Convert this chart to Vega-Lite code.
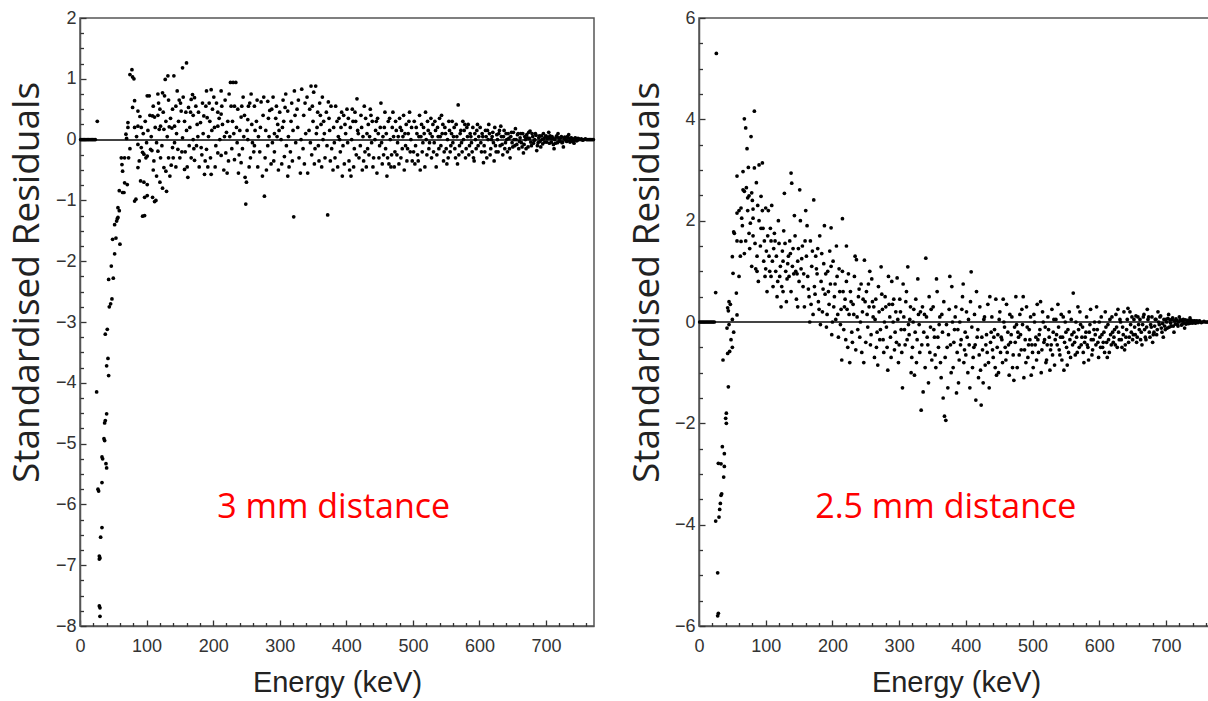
{
  "$schema": "https://vega.github.io/schema/vega-lite/v6.json",
  "autosize": {"type": "pad"},
  "padding": {"left": 7, "top": 8, "right": 0, "bottom": 0},
  "background": "white",
  "spacing": 105,
  "bounds": "flush",
  "config": {
    "view": {"stroke": "#555", "strokeWidth": 1.5},
    "axis": {
      "grid": false,
      "domainColor": "#555",
      "domainWidth": 1.5,
      "tickColor": "#333",
      "tickWidth": 1.3,
      "labelFont": "Liberation Sans",
      "labelFontSize": 18,
      "labelColor": "#333",
      "titleFont": "Liberation Sans",
      "titleFontWeight": "normal",
      "titleColor": "#222"
    }
  },
  "datasets": {
    "left": [
      {"e":1,"r":0},{"e":3,"r":0},{"e":5,"r":0},{"e":7,"r":0},{"e":9,"r":0},{"e":11,"r":0},{"e":13,"r":0},{"e":15,"r":0},{"e":17,"r":0},{"e":19,"r":0},{"e":21,"r":0},{"e":23,"r":0},
      {"e":26,"r":0.3},{"e":25,"r":-4.15},{"e":27,"r":-5.75},{"e":28,"r":-5.78},{"e":29,"r":-6.85},{"e":29,"r":-6.9},{"e":30,"r":-6.88},{"e":29,"r":-7.67},{"e":30,"r":-7.7},{"e":30,"r":-7.84},{"e":33,"r":-6.38},{"e":31,"r":-6.54},{"e":33,"r":-5.64},{"e":33,"r":-5.22},{"e":34,"r":-5.25},{"e":39,"r":-5.33},{"e":40,"r":-5.4},{"e":36,"r":-4.92},{"e":37,"r":-4.95},{"e":37,"r":-4.66},{"e":38,"r":-4.62},{"e":40,"r":-4.51},{"e":43,"r":-3.88},{"e":40,"r":-3.72},{"e":42,"r":-3.6},{"e":38,"r":-3.2},{"e":41,"r":-3.12},{"e":44,"r":-2.75},{"e":46,"r":-2.7},{"e":48,"r":-2.62},{"e":43,"r":-2.3},{"e":50,"r":-2.28},{"e":47,"r":-2.08},{"e":52,"r":-1.88},{"e":49,"r":-1.64},{"e":54,"r":-1.62},{"e":60,"r":-1.72},{"e":52,"r":-1.4},{"e":56,"r":-1.3},{"e":55,"r":-1.34},{"e":57,"r":-1.28},{"e":57,"r":-1.12},{"e":59,"r":-1.17},{"e":59,"r":-0.84},{"e":64,"r":-0.87},{"e":66,"r":-0.87},{"e":62,"r":-0.3},{"e":63,"r":-0.41},{"e":64,"r":-0.52},{"e":67,"r":-0.3},{"e":73,"r":-0.3},{"e":67,"r":-0.71},{"e":71,"r":-0.74},{"e":69,"r":0.09},{"e":70,"r":0.02},{"e":72,"r":0.2},{"e":72,"r":0.28},{"e":75,"r":-0.15},
      {"e":75,"r":1.07},{"e":78,"r":1.15},{"e":79,"r":1.03},{"e":81,"r":1.0},{"e":82,"r":0.64},{"e":79,"r":0.53},{"e":87,"r":0.47},{"e":82,"r":-1.01},{"e":84,"r":-0.98},{"e":87,"r":-0.46},{"e":89,"r":-0.35},{"e":91,"r":-0.68},{"e":96,"r":-0.7},{"e":101,"r":-0.74},{"e":97,"r":-0.95},{"e":101,"r":-0.92},{"e":94,"r":-1.26},{"e":97,"r":-1.25},{"e":82,"r":0.2},{"e":87,"r":0.22},{"e":92,"r":0.2},{"e":87,"r":-0.08},{"e":92,"r":-0.13},{"e":94,"r":-0.21},{"e":96,"r":-0.24},{"e":99,"r":-0.3},{"e":101,"r":-0.27},{"e":85,"r":0.05},{"e":90,"r":0.38},{"e":95,"r":0.1},{"e":98,"r":0.3},{"e":100,"r":-0.05},
      {"e":106,"r":-0.16},{"e":108,"r":-0.18},{"e":105,"r":0.4},{"e":109,"r":0.39},{"e":112,"r":0.37},{"e":117,"r":0.4},{"e":113,"r":0.2},{"e":101,"r":0.72},{"e":104,"r":0.72},{"e":117,"r":0.75},{"e":124,"r":0.77},{"e":127,"r":0.72},{"e":128,"r":0.99},{"e":132,"r":1.05},{"e":141,"r":1.05},{"e":139,"r":0.5},{"e":144,"r":0.55},{"e":151,"r":0.6},{"e":119,"r":0.17},{"e":121,"r":0.22},{"e":126,"r":0.17},{"e":134,"r":0.21},{"e":138,"r":0.19},{"e":142,"r":0.22},{"e":117,"r":-0.19},{"e":121,"r":-0.3},{"e":126,"r":-0.46},{"e":129,"r":-0.52},{"e":139,"r":-0.13},{"e":147,"r":-0.16},{"e":109,"r":-0.95},{"e":112,"r":-1.02},{"e":114,"r":-1.0},{"e":110,"r":-0.5},{"e":115,"r":-0.6},{"e":120,"r":-0.7},{"e":124,"r":-0.8},{"e":130,"r":-0.85},{"e":135,"r":-0.6},{"e":107,"r":0.05},{"e":115,"r":-0.05},{"e":123,"r":-0.1},{"e":131,"r":0.05},{"e":136,"r":0.35},{"e":110,"r":0.55},{"e":120,"r":0.5},{"e":129,"r":0.3},{"e":133,"r":-0.3},{"e":137,"r":-0.42},{"e":142,"r":-0.05},
      {"e":154,"r":0.03},{"e":152,"r":0.47},{"e":159,"r":0.45},{"e":163,"r":0.53},{"e":167,"r":0.66},{"e":172,"r":0.69},{"e":169,"r":0.74},{"e":154,"r":1.18},{"e":160,"r":1.26},{"e":146,"r":0.8},{"e":176,"r":0.25},{"e":181,"r":0.28},{"e":186,"r":0.39},{"e":191,"r":0.36},{"e":182,"r":-0.13},{"e":190,"r":-0.16},{"e":167,"r":-0.3},{"e":172,"r":-0.34},{"e":157,"r":-0.49},{"e":162,"r":-0.62},{"e":187,"r":-0.57},{"e":197,"r":-0.57},{"e":190,"r":0.8},{"e":197,"r":0.82},{"e":150,"r":-0.3},{"e":165,"r":0.2},{"e":170,"r":0.0},{"e":175,"r":-0.1},{"e":178,"r":0.45},{"e":185,"r":0.1},{"e":193,"r":0.05},{"e":196,"r":-0.3},{"e":148,"r":0.3},{"e":158,"r":-0.2},{"e":164,"r":-0.1},{"e":179,"r":-0.45},{"e":184,"r":0.6},{"e":199,"r":0.5},{"e":144,"r":-0.45},{"e":155,"r":0.7},{"e":188,"r":-0.35},{"e":160,"r":0.15},{"e":170,"r":0.4},{"e":194,"r":0.6},
      {"e":212,"r":0.8},{"e":207,"r":0.45},{"e":212,"r":0.42},{"e":202,"r":0.2},{"e":207,"r":0.22},{"e":214,"r":0.25},{"e":207,"r":-0.22},{"e":212,"r":-0.26},{"e":219,"r":-0.22},{"e":226,"r":0.94},{"e":230,"r":0.94},{"e":234,"r":0.94},{"e":227,"r":0.55},{"e":232,"r":0.55},{"e":237,"r":0.5},{"e":242,"r":0.37},{"e":247,"r":0.4},{"e":252,"r":0.33},{"e":252,"r":0.0},{"e":259,"r":-0.05},{"e":262,"r":-0.1},{"e":232,"r":-0.33},{"e":242,"r":-0.38},{"e":248,"r":-0.62},{"e":250,"r":-0.7},{"e":249,"r":-1.06},{"e":205,"r":0.6},{"e":218,"r":0.65},{"e":222,"r":0.3},{"e":225,"r":0.05},{"e":228,"r":-0.15},{"e":236,"r":-0.05},{"e":240,"r":0.15},{"e":245,"r":0.7},{"e":255,"r":0.6},{"e":258,"r":0.25},{"e":203,"r":-0.45},{"e":216,"r":-0.5},{"e":223,"r":-0.35},{"e":238,"r":-0.55},{"e":244,"r":-0.15},{"e":256,"r":-0.3},{"e":210,"r":0.0},{"e":220,"r":0.12},{"e":229,"r":0.3},{"e":253,"r":0.55},{"e":246,"r":0.05},{"e":235,"r":0.2},
      {"e":272,"r":0.62},{"e":282,"r":0.63},{"e":285,"r":0.48},{"e":277,"r":-0.93},{"e":292,"r":0.1},{"e":296,"r":0.05},{"e":302,"r":0.0},{"e":282,"r":-0.1},{"e":292,"r":-0.2},{"e":307,"r":-0.28},{"e":308,"r":0.53},{"e":312,"r":0.47},{"e":322,"r":0.8},{"e":317,"r":0.3},{"e":327,"r":0.2},{"e":321,"r":-1.27},{"e":265,"r":0.3},{"e":268,"r":0.05},{"e":270,"r":-0.2},{"e":275,"r":0.4},{"e":279,"r":0.15},{"e":287,"r":-0.4},{"e":290,"r":0.7},{"e":294,"r":0.35},{"e":298,"r":-0.5},{"e":300,"r":0.45},{"e":304,"r":0.2},{"e":310,"r":-0.1},{"e":314,"r":-0.45},{"e":318,"r":0.6},{"e":324,"r":-0.05},{"e":329,"r":-0.3},{"e":333,"r":0.83},{"e":336,"r":0.4},{"e":339,"r":0.1},{"e":262,"r":0.55},{"e":267,"r":-0.45},{"e":274,"r":-0.6},{"e":283,"r":0.35},{"e":289,"r":-0.05},{"e":305,"r":0.65},{"e":312,"r":-0.6},{"e":320,"r":0.15},{"e":326,"r":0.5},{"e":331,"r":-0.55},{"e":335,"r":-0.15},{"e":338,"r":0.6},{"e":263,"r":0.15},{"e":278,"r":-0.3},{"e":297,"r":0.25},{"e":316,"r":-0.2},
      {"e":347,"r":0.88},{"e":354,"r":0.88},{"e":351,"r":0.78},{"e":345,"r":0.5},{"e":350,"r":0.3},{"e":355,"r":0.1},{"e":358,"r":-0.1},{"e":348,"r":-0.25},{"e":352,"r":-0.4},{"e":360,"r":0.6},{"e":362,"r":0.25},{"e":365,"r":0.0},{"e":368,"r":-0.3},{"e":372,"r":-1.24},{"e":370,"r":0.45},{"e":375,"r":0.15},{"e":378,"r":-0.15},{"e":380,"r":-0.5},{"e":384,"r":0.55},{"e":386,"r":0.3},{"e":388,"r":0.05},{"e":391,"r":-0.2},{"e":394,"r":-0.6},{"e":396,"r":0.4},{"e":399,"r":0.1},{"e":402,"r":-0.05},{"e":404,"r":-0.35},{"e":406,"r":0.2},{"e":409,"r":0.5},{"e":412,"r":-0.15},{"e":416,"r":0.67},{"e":418,"r":0.1},{"e":342,"r":-0.55},{"e":357,"r":0.45},{"e":363,"r":-0.45},{"e":373,"r":0.62},{"e":382,"r":-0.05},{"e":389,"r":0.35},{"e":397,"r":-0.4},{"e":407,"r":-0.6},{"e":414,"r":0.3},{"e":419,"r":-0.3},{"e":344,"r":0.15},{"e":366,"r":0.3},{"e":376,"r":-0.35},{"e":392,"r":0.2},{"e":401,"r":0.5},{"e":411,"r":-0.45},
      {"e":422,"r":0.4},{"e":425,"r":0.05},{"e":428,"r":-0.2},{"e":430,"r":-0.45},{"e":433,"r":0.25},{"e":436,"r":0.5},{"e":438,"r":-0.05},{"e":441,"r":-0.3},{"e":444,"r":0.15},{"e":447,"r":0.35},{"e":450,"r":-0.1},{"e":452,"r":0.6},{"e":454,"r":-0.4},{"e":457,"r":0.2},{"e":459,"r":-0.15},{"e":461,"r":-0.6},{"e":463,"r":0.3},{"e":466,"r":0.0},{"e":468,"r":-0.25},{"e":470,"r":0.45},{"e":472,"r":-0.45},{"e":475,"r":0.15},{"e":477,"r":-0.05},{"e":480,"r":0.35},{"e":482,"r":-0.3},{"e":485,"r":0.05},{"e":487,"r":-0.5},{"e":490,"r":0.25},{"e":492,"r":-0.15},{"e":495,"r":0.45},{"e":497,"r":0.0},{"e":499,"r":-0.35},{"e":424,"r":-0.5},{"e":431,"r":0.1},{"e":439,"r":0.3},{"e":446,"r":-0.55},{"e":455,"r":0.05},{"e":462,"r":-0.3},{"e":469,"r":0.2},{"e":476,"r":-0.25},{"e":483,"r":0.15},{"e":489,"r":-0.1},{"e":496,"r":-0.2},{"e":427,"r":0.55},{"e":448,"r":0.1},{"e":467,"r":-0.45},{"e":486,"r":0.4},{"e":434,"r":-0.25},{"e":458,"r":0.45},{"e":478,"r":0.05},{"e":493,"r":0.1},
      {"e":502,"r":0.3},{"e":504,"r":-0.1},{"e":506,"r":0.1},{"e":508,"r":-0.35},{"e":510,"r":0.4},{"e":512,"r":0.05},{"e":514,"r":-0.2},{"e":516,"r":0.2},{"e":518,"r":-0.45},{"e":520,"r":0.0},{"e":522,"r":0.3},{"e":524,"r":-0.15},{"e":526,"r":0.1},{"e":528,"r":-0.3},{"e":530,"r":0.25},{"e":532,"r":-0.05},{"e":534,"r":0.15},{"e":536,"r":-0.25},{"e":538,"r":0.05},{"e":540,"r":0.35},{"e":542,"r":-0.1},{"e":544,"r":0.1},{"e":546,"r":-0.35},{"e":548,"r":0.2},{"e":550,"r":-0.15},{"e":552,"r":0.0},{"e":554,"r":0.3},{"e":556,"r":-0.2},{"e":558,"r":0.1},{"e":560,"r":-0.05},{"e":562,"r":0.2},{"e":564,"r":-0.3},{"e":566,"r":0.05},{"e":568,"r":0.57},{"e":570,"r":-0.1},{"e":572,"r":0.15},{"e":574,"r":-0.2},{"e":576,"r":0.0},{"e":578,"r":0.25},{"e":580,"r":-0.15},{"e":582,"r":0.05},{"e":584,"r":-0.25},{"e":586,"r":0.1},{"e":588,"r":-0.05},{"e":590,"r":0.2},{"e":592,"r":-0.35},{"e":594,"r":0.0},{"e":596,"r":0.15},{"e":598,"r":-0.1},{"e":503,"r":-0.4},{"e":511,"r":-0.5},{"e":519,"r":0.45},{"e":527,"r":0.35},{"e":535,"r":-0.45},{"e":543,"r":0.4},{"e":551,"r":-0.4},{"e":559,"r":0.3},{"e":567,"r":-0.4},{"e":575,"r":0.3},{"e":583,"r":0.25},{"e":591,"r":-0.3},{"e":599,"r":0.05},
      {"e":601,"r":0.2},{"e":603,"r":-0.2},{"e":605,"r":0.05},{"e":607,"r":-0.1},{"e":609,"r":0.15},{"e":611,"r":-0.3},{"e":613,"r":0.0},{"e":615,"r":0.1},{"e":617,"r":-0.15},{"e":619,"r":0.05},{"e":621,"r":-0.05},{"e":623,"r":0.2},{"e":625,"r":-0.2},{"e":627,"r":0.0},{"e":629,"r":0.1},{"e":631,"r":-0.1},{"e":633,"r":0.05},{"e":635,"r":-0.25},{"e":637,"r":0.15},{"e":639,"r":-0.05},{"e":641,"r":0.0},{"e":643,"r":0.1},{"e":645,"r":-0.15},{"e":647,"r":0.05},{"e":649,"r":-0.05},{"e":651,"r":0.12},{"e":653,"r":-0.1},{"e":655,"r":0.0},{"e":657,"r":0.08},{"e":659,"r":-0.15},{"e":661,"r":0.03},{"e":663,"r":-0.05},{"e":665,"r":0.1},{"e":667,"r":-0.08},{"e":669,"r":0.0},{"e":671,"r":0.08},{"e":673,"r":-0.12},{"e":675,"r":0.02},{"e":677,"r":-0.04},{"e":679,"r":0.1},{"e":681,"r":-0.06},{"e":683,"r":0.0},{"e":685,"r":0.07},{"e":687,"r":-0.1},{"e":689,"r":0.03},{"e":691,"r":-0.03},{"e":693,"r":0.06},{"e":695,"r":-0.07},{"e":697,"r":0.02},{"e":699,"r":0.05},{"e":606,"r":-0.38},{"e":614,"r":0.25},{"e":622,"r":-0.35},{"e":632,"r":0.22},{"e":646,"r":-0.3},{"e":654,"r":0.18},{"e":666,"r":-0.22},{"e":676,"r":0.14},{"e":686,"r":-0.18},{"e":696,"r":0.1},
      {"e":701,"r":-0.04},{"e":703,"r":0.04},{"e":705,"r":-0.06},{"e":707,"r":0.02},{"e":709,"r":0.05},{"e":711,"r":-0.08},{"e":713,"r":0.0},{"e":715,"r":0.04},{"e":717,"r":-0.05},{"e":719,"r":0.03},{"e":721,"r":-0.03},{"e":723,"r":0.05},{"e":725,"r":-0.04},{"e":727,"r":0.02},{"e":729,"r":0.0},{"e":731,"r":-0.03},{"e":733,"r":0.03},{"e":735,"r":-0.02},{"e":737,"r":0.02},{"e":739,"r":0.0},{"e":741,"r":-0.02},{"e":743,"r":0.02},{"e":745,"r":0.0},{"e":747,"r":-0.01},{"e":749,"r":0.01},{"e":751,"r":0.0},{"e":753,"r":0.01},{"e":755,"r":-0.01},{"e":757,"r":0.0},{"e":759,"r":0.01},{"e":761,"r":0.0},{"e":763,"r":0.0},{"e":765,"r":0.0},{"e":767,"r":0.0},{"e":769,"r":0.0},{"e":771,"r":0.0},{"e":704,"r":0.12},{"e":712,"r":-0.15},{"e":718,"r":0.1},{"e":726,"r":-0.12},{"e":734,"r":0.08},{"e":742,"r":-0.06},
      {"e":102,"r":0.15},{"e":111,"r":-0.35},{"e":118,"r":0.6},{"e":125,"r":0.45},{"e":133,"r":0.65},{"e":140,"r":-0.3},{"e":145,"r":0.1},{"e":149,"r":0.65},{"e":153,"r":-0.2},{"e":157,"r":0.3},{"e":161,"r":-0.45},{"e":166,"r":0.45},{"e":171,"r":-0.15},{"e":174,"r":0.55},{"e":177,"r":0.05},{"e":183,"r":-0.25},{"e":189,"r":0.55},{"e":192,"r":-0.45},{"e":195,"r":0.3},{"e":198,"r":0.15},{"e":201,"r":0.7},{"e":204,"r":-0.1},{"e":209,"r":0.35},{"e":213,"r":0.55},{"e":217,"r":0.05},{"e":221,"r":-0.55},{"e":224,"r":0.75},{"e":231,"r":0.1},{"e":239,"r":-0.25},{"e":243,"r":0.55},{"e":251,"r":0.15},{"e":254,"r":-0.45},{"e":257,"r":0.75},{"e":261,"r":-0.2},{"e":266,"r":0.65},{"e":271,"r":0.2},{"e":276,"r":0.7},{"e":280,"r":-0.5},{"e":284,"r":0.05},{"e":288,"r":0.5},{"e":291,"r":-0.35},{"e":295,"r":0.55},{"e":299,"r":0.15},{"e":303,"r":-0.4},{"e":306,"r":0.3},{"e":309,"r":0.75},{"e":313,"r":0.05},{"e":319,"r":-0.35},{"e":323,"r":0.4},{"e":328,"r":0.65},{"e":332,"r":0.0},{"e":337,"r":-0.4},{"e":341,"r":0.7},{"e":346,"r":-0.05},{"e":349,"r":0.55},{"e":353,"r":-0.15},{"e":356,"r":0.2},{"e":359,"r":-0.35},{"e":361,"r":0.4},{"e":364,"r":0.7},{"e":367,"r":0.1},{"e":371,"r":-0.1},{"e":374,"r":0.35},{"e":377,"r":0.55},{"e":381,"r":0.2},{"e":383,"r":-0.3},{"e":387,"r":-0.45},{"e":390,"r":0.0},{"e":393,"r":0.45},{"e":395,"r":-0.1},{"e":398,"r":0.25},{"e":403,"r":0.35},{"e":405,"r":-0.5},{"e":408,"r":0.0},{"e":410,"r":0.3},{"e":413,"r":0.45},{"e":415,"r":-0.25},{"e":417,"r":0.15},{"e":421,"r":-0.1},{"e":423,"r":0.2},{"e":426,"r":-0.35},{"e":429,"r":0.35},{"e":432,"r":-0.15},{"e":435,"r":0.05},{"e":437,"r":0.4},{"e":440,"r":-0.45},{"e":443,"r":0.0},{"e":445,"r":0.3},{"e":449,"r":-0.3},{"e":451,"r":0.2},{"e":453,"r":-0.05},{"e":456,"r":-0.25},{"e":460,"r":0.1},{"e":464,"r":-0.4},{"e":465,"r":0.35},{"e":471,"r":0.05},{"e":473,"r":-0.2},{"e":474,"r":0.3},{"e":479,"r":-0.4},{"e":481,"r":0.2},{"e":484,"r":-0.15},{"e":488,"r":0.1},{"e":491,"r":-0.35},{"e":494,"r":0.3},{"e":498,"r":0.2},{"e":501,"r":-0.2},{"e":505,"r":0.2},{"e":507,"r":-0.25},{"e":509,"r":0.05},{"e":513,"r":0.25},{"e":515,"r":-0.05},{"e":517,"r":0.1},{"e":521,"r":-0.25},{"e":523,"r":0.15},{"e":525,"r":-0.05},{"e":529,"r":0.05},{"e":531,"r":-0.2},{"e":533,"r":0.3},{"e":537,"r":0.2},{"e":539,"r":-0.15},{"e":541,"r":0.05},{"e":545,"r":0.25},{"e":547,"r":-0.2},{"e":549,"r":0.1},{"e":553,"r":-0.3},{"e":555,"r":0.15},{"e":557,"r":-0.1},{"e":561,"r":0.05},{"e":563,"r":-0.15},{"e":565,"r":0.25},{"e":569,"r":-0.25},{"e":571,"r":0.1},{"e":573,"r":-0.05},{"e":577,"r":0.15},{"e":579,"r":-0.3},{"e":581,"r":0.2},{"e":585,"r":-0.1},{"e":587,"r":0.05},{"e":589,"r":-0.2},{"e":593,"r":0.1},{"e":595,"r":-0.15},{"e":597,"r":0.25},{"e":602,"r":-0.05},{"e":604,"r":0.1},{"e":608,"r":-0.2},{"e":610,"r":0.05},{"e":612,"r":0.15},{"e":616,"r":-0.25},{"e":618,"r":0.0},{"e":620,"r":0.12},{"e":624,"r":-0.1},{"e":626,"r":0.08},{"e":628,"r":-0.2},{"e":630,"r":0.15},{"e":634,"r":-0.08},{"e":636,"r":0.05},{"e":638,"r":-0.15},{"e":640,"r":0.1},{"e":642,"r":-0.2},{"e":644,"r":0.02},{"e":648,"r":0.12},{"e":650,"r":-0.12},{"e":652,"r":0.0},{"e":656,"r":-0.08},{"e":658,"r":0.1},{"e":660,"r":-0.03},{"e":662,"r":0.1},{"e":664,"r":-0.12},{"e":668,"r":0.05},{"e":670,"r":-0.15},{"e":672,"r":0.03},{"e":674,"r":0.12},{"e":678,"r":-0.1},{"e":680,"r":0.05},{"e":682,"r":-0.02},{"e":684,"r":0.1},{"e":688,"r":-0.05},{"e":690,"r":0.06},{"e":692,"r":-0.12},{"e":694,"r":0.0},{"e":698,"r":-0.04},{"e":700,"r":0.06},{"e":702,"r":0.02},{"e":706,"r":0.06},{"e":708,"r":-0.04},{"e":710,"r":0.02},{"e":714,"r":-0.06},{"e":716,"r":0.06},{"e":720,"r":-0.02},{"e":722,"r":0.03},{"e":724,"r":-0.05},{"e":728,"r":0.04},{"e":730,"r":-0.01},{"e":732,"r":0.05},{"e":736,"r":-0.04},{"e":738,"r":0.03},{"e":740,"r":-0.03},{"e":744,"r":0.03},{"e":746,"r":-0.02},{"e":748,"r":0.02}
    ],
    "right": [
      {"e":1,"r":0},{"e":3,"r":0},{"e":5,"r":0},{"e":7,"r":0},{"e":9,"r":0},{"e":11,"r":0},{"e":13,"r":0},{"e":15,"r":0},{"e":17,"r":0},{"e":19,"r":0},{"e":21,"r":0},{"e":23,"r":0},
      {"e":26,"r":5.3},{"e":25,"r":0.58},{"e":28,"r":-4.95},{"e":28,"r":-5.8},{"e":29,"r":-5.75},{"e":25,"r":-3.93},{"e":30,"r":-3.85},{"e":31,"r":-3.7},{"e":32,"r":-3.58},{"e":34,"r":-3.39},{"e":33,"r":-3.42},{"e":29,"r":-2.79},{"e":33,"r":-2.8},{"e":35,"r":-2.46},{"e":37,"r":-3.06},{"e":38,"r":-2.85},{"e":38,"r":-2.6},{"e":40,"r":-1.9},{"e":41,"r":-1.8},{"e":41,"r":-2.0},{"e":44,"r":-1.28},{"e":36,"r":-0.75},{"e":43,"r":-0.62},{"e":46,"r":-0.58},{"e":50,"r":-0.5},{"e":48,"r":-0.35},{"e":52,"r":-0.2},{"e":42,"r":-0.12},{"e":45,"r":-0.05},{"e":43,"r":0.28},{"e":45,"r":0.4},{"e":44,"r":0.22},{"e":47,"r":0.35},{"e":50,"r":0.05},
      {"e":57,"r":2.88},{"e":66,"r":2.97},{"e":68,"r":4.01},{"e":70,"r":3.83},{"e":72,"r":3.42},{"e":78,"r":3.66},{"e":83,"r":4.16},{"e":83,"r":3.04},{"e":95,"r":3.14},{"e":90,"r":3.1},{"e":66,"r":2.61},{"e":68,"r":2.58},{"e":71,"r":2.65},{"e":75,"r":2.49},{"e":73,"r":2.45},{"e":57,"r":2.15},{"e":60,"r":2.2},{"e":63,"r":2.25},{"e":52,"r":1.78},{"e":53,"r":1.75},{"e":57,"r":1.6},{"e":50,"r":1.29},{"e":51,"r":0.96},{"e":56,"r":0.57},{"e":57,"r":0.14},{"e":63,"r":1.59},{"e":70,"r":1.6},{"e":81,"r":2.05},{"e":81,"r":2.23},{"e":80,"r":2.4},{"e":93,"r":2.48},{"e":100,"r":2.25},{"e":81,"r":1.7},{"e":87,"r":1.3},{"e":85,"r":1.05},{"e":87,"r":1.0},{"e":89,"r":0.8},{"e":93,"r":1.85},{"e":96,"r":1.85},{"e":65,"r":1.9},{"e":68,"r":1.35},{"e":75,"r":1.75},{"e":77,"r":1.95},{"e":73,"r":2.2},{"e":60,"r":0.9},{"e":62,"r":1.3},{"e":64,"r":2.05},{"e":79,"r":1.1},{"e":76,"r":1.45},{"e":84,"r":1.55},{"e":90,"r":2.0},{"e":92,"r":1.5},{"e":97,"r":1.2},{"e":99,"r":0.9},{"e":95,"r":2.2},{"e":88,"r":2.3},{"e":98,"r":1.6},{"e":74,"r":3.05},{"e":79,"r":2.55},{"e":86,"r":2.75},
      {"e":103,"r":1.7},{"e":108,"r":1.6},{"e":113,"r":1.75},{"e":100,"r":1.05},{"e":108,"r":0.9},{"e":117,"r":0.5},{"e":126,"r":1.2},{"e":128,"r":2.54},{"e":138,"r":2.94},{"e":139,"r":2.74},{"e":151,"r":2.61},{"e":105,"r":1.3},{"e":110,"r":1.2},{"e":112,"r":1.45},{"e":115,"r":1.0},{"e":118,"r":0.8},{"e":120,"r":1.55},{"e":122,"r":1.1},{"e":124,"r":0.7},{"e":125,"r":1.4},{"e":130,"r":1.0},{"e":132,"r":0.85},{"e":134,"r":1.3},{"e":136,"r":1.6},{"e":138,"r":0.6},{"e":140,"r":1.1},{"e":142,"r":0.95},{"e":144,"r":1.7},{"e":146,"r":0.45},{"e":148,"r":1.2},{"e":150,"r":0.8},{"e":102,"r":0.6},{"e":107,"r":1.85},{"e":119,"r":2.0},{"e":127,"r":1.8},{"e":131,"r":0.4},{"e":143,"r":2.1},{"e":149,"r":1.45},{"e":104,"r":2.2},{"e":116,"r":1.3},{"e":123,"r":0.3},{"e":135,"r":0.9},{"e":141,"r":1.45},{"e":111,"r":0.7},{"e":129,"r":1.55},{"e":147,"r":0.95},
      {"e":172,"r":2.41},{"e":160,"r":2.2},{"e":152,"r":2.0},{"e":155,"r":1.5},{"e":215,"r":2.04},{"e":221,"r":1.5},{"e":198,"r":1.86},{"e":236,"r":1.23},{"e":248,"r":1.22},{"e":153,"r":1.05},{"e":156,"r":0.7},{"e":158,"r":0.3},{"e":161,"r":1.3},{"e":163,"r":0.9},{"e":165,"r":0.5},{"e":167,"r":1.6},{"e":169,"r":1.1},{"e":171,"r":0.15},{"e":173,"r":0.7},{"e":175,"r":1.3},{"e":177,"r":0.95},{"e":179,"r":0.4},{"e":181,"r":1.7},{"e":183,"r":0.8},{"e":185,"r":0.2},{"e":187,"r":1.15},{"e":189,"r":0.55},{"e":191,"r":-0.1},{"e":193,"r":1.0},{"e":195,"r":0.35},{"e":197,"r":0.75},{"e":199,"r":-0.25},{"e":201,"r":1.2},{"e":203,"r":0.5},{"e":205,"r":0.05},{"e":207,"r":0.9},{"e":209,"r":-0.3},{"e":211,"r":0.6},{"e":213,"r":0.25},{"e":215,"r":1.0},{"e":217,"r":-0.15},{"e":219,"r":0.45},{"e":221,"r":0.8},{"e":223,"r":-0.5},{"e":225,"r":0.15},{"e":227,"r":0.6},{"e":229,"r":-0.2},{"e":231,"r":0.35},{"e":233,"r":0.9},{"e":235,"r":-0.55},{"e":237,"r":0.1},{"e":239,"r":0.5},{"e":241,"r":-0.3},{"e":243,"r":0.75},{"e":245,"r":0.2},{"e":247,"r":-0.8},{"e":249,"r":0.4},{"e":162,"r":1.9},{"e":178,"r":1.45},{"e":188,"r":1.9},{"e":196,"r":1.4},{"e":206,"r":1.5},{"e":214,"r":-0.75},{"e":226,"r":-0.8},{"e":234,"r":1.3},{"e":244,"r":-0.6},{"e":166,"r":0.0},{"e":182,"r":-0.05},{"e":200,"r":0.0},{"e":218,"r":0.3},
      {"e":273,"r":1.09},{"e":313,"r":1.09},{"e":297,"r":0.87},{"e":340,"r":1.26},{"e":333,"r":-1.74},{"e":336,"r":-1.38},{"e":251,"r":0.6},{"e":253,"r":-0.1},{"e":255,"r":0.3},{"e":257,"r":-0.45},{"e":259,"r":0.85},{"e":261,"r":0.1},{"e":263,"r":-0.7},{"e":265,"r":0.45},{"e":267,"r":-0.2},{"e":269,"r":0.7},{"e":271,"r":-0.35},{"e":275,"r":0.25},{"e":277,"r":-0.6},{"e":279,"r":0.5},{"e":281,"r":-0.1},{"e":283,"r":-0.95},{"e":285,"r":0.35},{"e":287,"r":-0.3},{"e":289,"r":0.8},{"e":291,"r":0.0},{"e":293,"r":-0.55},{"e":295,"r":0.2},{"e":299,"r":-0.8},{"e":301,"r":0.45},{"e":303,"r":-0.15},{"e":305,"r":-1.3},{"e":307,"r":0.1},{"e":309,"r":-0.45},{"e":311,"r":0.6},{"e":315,"r":-0.25},{"e":317,"r":0.3},{"e":319,"r":-0.7},{"e":321,"r":0.0},{"e":323,"r":-1.05},{"e":325,"r":0.45},{"e":327,"r":-0.35},{"e":329,"r":0.15},{"e":331,"r":-0.6},{"e":335,"r":0.3},{"e":337,"r":-0.2},{"e":339,"r":-0.9},{"e":341,"r":0.1},{"e":343,"r":-0.45},{"e":345,"r":0.5},{"e":347,"r":-0.1},{"e":349,"r":-0.75},{"e":256,"r":1.0},{"e":268,"r":-0.85},{"e":284,"r":0.9},{"e":296,"r":-0.4},{"e":306,"r":0.75},{"e":318,"r":-1.0},{"e":328,"r":0.85},{"e":344,"r":-1.2},{"e":262,"r":0.3},{"e":278,"r":0.0},{"e":292,"r":0.45},{"e":314,"r":-0.05},{"e":332,"r":0.2},
      {"e":370,"r":-1.94},{"e":368,"r":-1.86},{"e":415,"r":-1.54},{"e":423,"r":-1.64},{"e":408,"r":0.99},{"e":351,"r":0.3},{"e":353,"r":-0.3},{"e":355,"r":-0.9},{"e":357,"r":0.6},{"e":359,"r":-0.5},{"e":361,"r":0.1},{"e":363,"r":-1.1},{"e":365,"r":-0.2},{"e":367,"r":0.4},{"e":369,"r":-0.7},{"e":371,"r":-0.05},{"e":373,"r":-1.3},{"e":375,"r":0.25},{"e":377,"r":-0.45},{"e":379,"r":0.7},{"e":381,"r":-0.9},{"e":383,"r":-0.15},{"e":385,"r":0.3},{"e":387,"r":-0.6},{"e":389,"r":-1.2},{"e":391,"r":0.0},{"e":393,"r":-0.35},{"e":395,"r":0.5},{"e":397,"r":-0.8},{"e":399,"r":-0.2},{"e":401,"r":0.2},{"e":403,"r":-1.0},{"e":405,"r":-0.45},{"e":407,"r":0.4},{"e":409,"r":-0.1},{"e":411,"r":-0.7},{"e":413,"r":0.15},{"e":417,"r":-0.3},{"e":419,"r":-1.1},{"e":421,"r":0.3},{"e":425,"r":-0.55},{"e":427,"r":0.05},{"e":429,"r":-0.85},{"e":431,"r":-0.25},{"e":433,"r":0.35},{"e":435,"r":-1.3},{"e":437,"r":-0.4},{"e":439,"r":0.1},{"e":441,"r":-0.7},{"e":443,"r":-0.15},{"e":445,"r":0.45},{"e":447,"r":-0.5},{"e":449,"r":-1.0},{"e":356,"r":0.85},{"e":366,"r":-1.5},{"e":376,"r":0.9},{"e":386,"r":-1.4},{"e":396,"r":0.75},{"e":406,"r":-1.3},{"e":416,"r":0.6},{"e":426,"r":-1.2},{"e":436,"r":0.5},{"e":446,"r":-1.05},{"e":360,"r":-0.05},{"e":380,"r":0.0},{"e":398,"r":-0.55},{"e":412,"r":-0.5},{"e":432,"r":-0.6},{"e":442,"r":-0.3},
      {"e":561,"r":0.57},{"e":451,"r":0.2},{"e":453,"r":-0.3},{"e":455,"r":-0.8},{"e":457,"r":0.0},{"e":459,"r":-0.5},{"e":461,"r":0.35},{"e":463,"r":-0.2},{"e":465,"r":-1.05},{"e":467,"r":-0.4},{"e":469,"r":0.1},{"e":471,"r":-0.65},{"e":473,"r":-0.1},{"e":475,"r":0.5},{"e":477,"r":-0.9},{"e":479,"r":-0.3},{"e":481,"r":0.15},{"e":483,"r":-0.55},{"e":485,"r":-0.05},{"e":487,"r":-1.1},{"e":489,"r":-0.35},{"e":491,"r":0.3},{"e":493,"r":-0.7},{"e":495,"r":-0.15},{"e":497,"r":0.1},{"e":499,"r":-0.45},{"e":501,"r":-0.9},{"e":503,"r":0.0},{"e":505,"r":-0.3},{"e":507,"r":0.35},{"e":509,"r":-0.6},{"e":511,"r":-0.15},{"e":513,"r":-1.0},{"e":515,"r":0.2},{"e":517,"r":-0.4},{"e":519,"r":-0.1},{"e":521,"r":-0.75},{"e":523,"r":0.1},{"e":525,"r":-0.3},{"e":527,"r":-0.55},{"e":529,"r":0.25},{"e":531,"r":-0.2},{"e":533,"r":-0.85},{"e":535,"r":0.05},{"e":537,"r":-0.45},{"e":539,"r":-0.1},{"e":541,"r":-0.65},{"e":543,"r":0.15},{"e":545,"r":-0.3},{"e":547,"r":-0.95},{"e":549,"r":0.0},{"e":551,"r":-0.5},{"e":553,"r":-0.15},{"e":555,"r":0.2},{"e":557,"r":-0.7},{"e":559,"r":-0.25},{"e":456,"r":0.45},{"e":472,"r":-1.15},{"e":486,"r":0.5},{"e":498,"r":-1.05},{"e":512,"r":0.4},{"e":526,"r":-0.95},{"e":538,"r":0.35},{"e":552,"r":-0.85},{"e":462,"r":-0.6},{"e":478,"r":-0.2},{"e":494,"r":-0.45},{"e":508,"r":-0.35},{"e":522,"r":-0.45},{"e":534,"r":-0.35},{"e":548,"r":-0.4},
      {"e":563,"r":-0.4},{"e":565,"r":0.0},{"e":567,"r":-0.6},{"e":569,"r":-0.15},{"e":571,"r":0.2},{"e":573,"r":-0.45},{"e":575,"r":-0.1},{"e":577,"r":-0.8},{"e":579,"r":-0.3},{"e":581,"r":0.1},{"e":583,"r":-0.5},{"e":585,"r":-0.2},{"e":587,"r":0.25},{"e":589,"r":-0.65},{"e":591,"r":-0.35},{"e":593,"r":0.0},{"e":595,"r":-0.45},{"e":597,"r":-0.15},{"e":599,"r":-0.7},{"e":601,"r":-0.3},{"e":603,"r":0.1},{"e":605,"r":-0.5},{"e":607,"r":-0.2},{"e":609,"r":0.2},{"e":611,"r":-0.4},{"e":613,"r":-0.05},{"e":615,"r":-0.6},{"e":617,"r":-0.25},{"e":619,"r":0.1},{"e":621,"r":-0.4},{"e":623,"r":-0.15},{"e":625,"r":0.15},{"e":627,"r":-0.5},{"e":629,"r":-0.2},{"e":631,"r":0.05},{"e":633,"r":-0.35},{"e":635,"r":-0.1},{"e":637,"r":0.2},{"e":639,"r":-0.45},{"e":641,"r":-0.15},{"e":643,"r":0.27},{"e":645,"r":-0.3},{"e":647,"r":-0.05},{"e":649,"r":0.1},{"e":651,"r":-0.25},{"e":653,"r":-0.1},{"e":655,"r":0.12},{"e":657,"r":-0.3},{"e":659,"r":-0.05},{"e":568,"r":0.3},{"e":584,"r":-0.75},{"e":596,"r":0.3},{"e":612,"r":-0.7},{"e":628,"r":0.25},{"e":638,"r":-0.55},{"e":646,"r":0.2},{"e":578,"r":-0.4},{"e":594,"r":-0.25},{"e":606,"r":-0.4},{"e":622,"r":-0.3},{"e":636,"r":-0.25},
      {"e":661,"r":0.05},{"e":663,"r":-0.2},{"e":665,"r":-0.05},{"e":667,"r":0.15},{"e":669,"r":-0.3},{"e":671,"r":-0.1},{"e":673,"r":0.05},{"e":675,"r":-0.2},{"e":677,"r":-0.05},{"e":679,"r":0.1},{"e":681,"r":-0.25},{"e":683,"r":-0.08},{"e":685,"r":0.05},{"e":687,"r":-0.15},{"e":689,"r":0.0},{"e":691,"r":0.1},{"e":693,"r":-0.12},{"e":695,"r":-0.03},{"e":697,"r":0.05},{"e":699,"r":-0.15},{"e":701,"r":0.0},{"e":703,"r":0.07},{"e":705,"r":-0.1},{"e":707,"r":-0.02},{"e":709,"r":0.05},{"e":711,"r":-0.08},{"e":713,"r":0.02},{"e":715,"r":0.06},{"e":717,"r":-0.05},{"e":719,"r":0.0},{"e":721,"r":0.04},{"e":723,"r":-0.06},{"e":725,"r":0.02},{"e":727,"r":-0.02},{"e":729,"r":0.04},{"e":731,"r":-0.03},{"e":733,"r":0.01},{"e":735,"r":0.03},{"e":737,"r":-0.02},{"e":739,"r":0.01},{"e":741,"r":0.0},{"e":743,"r":0.02},{"e":745,"r":-0.01},{"e":747,"r":0.01},{"e":749,"r":0.0},{"e":751,"r":0.01},{"e":753,"r":-0.01},{"e":755,"r":0.0},{"e":757,"r":0.01},{"e":759,"r":0.0},{"e":761,"r":0.0},{"e":763,"r":0.0},{"e":765,"r":0.0},{"e":664,"r":-0.45},{"e":672,"r":0.25},{"e":680,"r":-0.4},{"e":688,"r":0.2},{"e":696,"r":-0.3},{"e":704,"r":0.15},{"e":712,"r":-0.2},{"e":720,"r":0.1},{"e":728,"r":-0.12},{"e":736,"r":0.08},
      {"e":101,"r":1.4},{"e":106,"r":1.0},{"e":109,"r":2.3},{"e":114,"r":1.6},{"e":121,"r":0.9},{"e":126,"r":0.6},{"e":133,"r":1.15},{"e":137,"r":1.35},{"e":145,"r":1.0},{"e":148,"r":0.3},{"e":154,"r":1.25},{"e":157,"r":0.95},{"e":159,"r":1.6},{"e":164,"r":0.65},{"e":168,"r":0.35},{"e":170,"r":1.4},{"e":174,"r":0.55},{"e":176,"r":1.05},{"e":180,"r":0.25},{"e":184,"r":1.35},{"e":186,"r":0.65},{"e":190,"r":0.95},{"e":192,"r":0.15},{"e":194,"r":0.6},{"e":198,"r":1.1},{"e":202,"r":0.3},{"e":204,"r":0.75},{"e":208,"r":0.15},{"e":210,"r":1.05},{"e":212,"r":-0.05},{"e":216,"r":0.6},{"e":220,"r":-0.35},{"e":222,"r":0.25},{"e":224,"r":0.95},{"e":228,"r":0.4},{"e":230,"r":-0.4},{"e":232,"r":0.15},{"e":238,"r":-0.15},{"e":240,"r":0.65},{"e":242,"r":0.0},{"e":246,"r":0.45},{"e":250,"r":-0.4},{"e":252,"r":0.15},{"e":254,"r":0.75},{"e":258,"r":-0.25},{"e":260,"r":0.4},{"e":264,"r":0.05},{"e":266,"r":-0.5},{"e":270,"r":0.2},{"e":272,"r":-0.15},{"e":274,"r":0.55},{"e":276,"r":-0.35},{"e":280,"r":0.3},{"e":282,"r":-0.5},{"e":286,"r":0.1},{"e":288,"r":-0.7},{"e":290,"r":0.35},{"e":294,"r":-0.2},{"e":298,"r":0.05},{"e":300,"r":-0.45},{"e":302,"r":0.2},{"e":304,"r":-0.6},{"e":308,"r":-0.15},{"e":310,"r":0.4},{"e":312,"r":-0.35},{"e":316,"r":0.05},{"e":320,"r":-0.5},{"e":322,"r":0.25},{"e":324,"r":-0.2},{"e":326,"r":-0.8},{"e":330,"r":-0.05},{"e":334,"r":-0.45},{"e":338,"r":0.15},{"e":342,"r":-0.3},{"e":346,"r":-0.6},{"e":348,"r":0.25},{"e":352,"r":-0.15},{"e":354,"r":-0.65},{"e":358,"r":-0.3},{"e":362,"r":-0.8},{"e":364,"r":0.15},{"e":372,"r":-0.5},{"e":374,"r":-0.25},{"e":378,"r":-1.0},{"e":382,"r":-0.4},{"e":384,"r":0.1},{"e":388,"r":-0.15},{"e":390,"r":-0.75},{"e":392,"r":-0.45},{"e":394,"r":0.25},{"e":400,"r":-0.65},{"e":402,"r":-0.3},{"e":404,"r":0.05},{"e":410,"r":-0.9},{"e":414,"r":-0.45},{"e":418,"r":-0.15},{"e":420,"r":-0.65},{"e":422,"r":-0.95},{"e":424,"r":-0.3},{"e":428,"r":0.1},{"e":430,"r":-0.45},{"e":434,"r":-0.8},{"e":438,"r":-0.2},{"e":440,"r":-0.55},{"e":444,"r":-0.9},{"e":448,"r":-0.25},{"e":450,"r":0.05},{"e":452,"r":-0.6},{"e":454,"r":-0.35},{"e":458,"r":-0.1},{"e":460,"r":-0.75},{"e":464,"r":-0.45},{"e":466,"r":0.15},{"e":468,"r":-0.25},{"e":470,"r":-0.9},{"e":474,"r":-0.4},{"e":476,"r":-0.05},{"e":480,"r":-0.65},{"e":482,"r":-0.25},{"e":484,"r":0.25},{"e":488,"r":-0.55},{"e":490,"r":-0.8},{"e":492,"r":-0.1},{"e":496,"r":-0.35},{"e":500,"r":-0.6},{"e":502,"r":0.15},{"e":504,"r":-0.45},{"e":506,"r":-0.75},{"e":510,"r":-0.25},{"e":514,"r":-0.55},{"e":516,"r":0.0},{"e":518,"r":-0.35},{"e":520,"r":-0.8},{"e":524,"r":-0.15},{"e":528,"r":-0.45},{"e":530,"r":-0.65},{"e":532,"r":0.05},{"e":536,"r":-0.25},{"e":540,"r":-0.55},{"e":542,"r":-0.3},{"e":544,"r":-0.75},{"e":546,"r":0.1},{"e":550,"r":-0.2},{"e":554,"r":-0.6},{"e":556,"r":-0.35},{"e":558,"r":0.05},{"e":560,"r":-0.45},{"e":562,"r":-0.2},{"e":564,"r":-0.65},{"e":566,"r":-0.3},{"e":570,"r":-0.5},{"e":572,"r":-0.05},{"e":574,"r":-0.3},{"e":576,"r":-0.6},{"e":580,"r":-0.2},{"e":582,"r":-0.45},{"e":586,"r":-0.05},{"e":588,"r":-0.35},{"e":590,"r":-0.55},{"e":592,"r":-0.15},{"e":598,"r":-0.4},{"e":600,"r":0.0},{"e":602,"r":-0.5},{"e":604,"r":-0.25},{"e":608,"r":-0.6},{"e":610,"r":-0.1},{"e":614,"r":-0.35},{"e":616,"r":0.05},{"e":618,"r":-0.45},{"e":620,"r":-0.2},{"e":624,"r":-0.45},{"e":626,"r":-0.1},{"e":630,"r":-0.35},{"e":632,"r":0.0},{"e":634,"r":-0.5},{"e":640,"r":-0.3},{"e":642,"r":0.05},{"e":644,"r":-0.4},{"e":648,"r":-0.2},{"e":650,"r":-0.35},{"e":652,"r":0.05},{"e":654,"r":-0.25},{"e":656,"r":-0.4},{"e":658,"r":0.1},{"e":660,"r":-0.15},{"e":662,"r":-0.35},{"e":666,"r":0.1},{"e":668,"r":-0.15},{"e":670,"r":-0.35},{"e":674,"r":0.1},{"e":676,"r":-0.3},{"e":678,"r":-0.1},{"e":682,"r":-0.2},{"e":684,"r":0.05},{"e":686,"r":-0.25},{"e":690,"r":-0.05},{"e":692,"r":0.12},{"e":694,"r":-0.2},{"e":698,"r":-0.08},{"e":700,"r":0.05},{"e":702,"r":-0.12},{"e":706,"r":0.04},{"e":708,"r":-0.08},{"e":710,"r":0.08},{"e":714,"r":-0.04},{"e":716,"r":0.03},{"e":718,"r":-0.08},{"e":722,"r":0.04},{"e":724,"r":-0.05},{"e":726,"r":0.05},{"e":730,"r":-0.04},{"e":732,"r":0.03},{"e":734,"r":-0.03},{"e":738,"r":0.03},{"e":740,"r":-0.02},{"e":742,"r":0.02},{"e":744,"r":-0.02},{"e":746,"r":0.02},{"e":748,"r":-0.01},{"e":750,"r":0.02}
    ],
    "labL": [{"e": 381, "r": -6.22, "t": "3 mm distance"}],
    "labR": [{"e": 370, "r": -3.86, "t": "2.5 mm distance"}]
  },
  "hconcat": [
    {
      "width": 514,
      "height": 608,
      "resolve": {"axis": {"x": "independent", "y": "independent"}},
      "layer": [
        {
          "data": {"name": "left"},
          "mark": {"type": "rule", "color": "#444", "strokeWidth": 1},
          "encoding": {
            "y": {"datum": 0, "type": "quantitative", "scale": {"domain": [-8, 2], "nice": false}, "axis": null}
          }
        },
        {
          "data": {"name": "left"},
          "mark": {"type": "circle", "size": 14, "color": "black", "opacity": 1},
          "encoding": {
            "x": {
              "field": "e", "type": "quantitative",
              "scale": {"domain": [0, 772], "nice": false, "zero": false},
              "axis": {
                "orient": "bottom",
                "title": "Energy (keV)",
                "titleFontSize": 29,
                "titleBaseline": "alphabetic",
                "titleX": 257,
                "titleY": 65,
                "values": [0,100,200,300,400,500,600,700],
                "labelExpr": "format(datum.value, 'd')",
                "labelOverlap": false,
                "labelFlush": false,
                "tickSize": -6,
                "labelPadding": 17
              }
            },
            "y": {
              "field": "r", "type": "quantitative",
              "scale": {"domain": [-8, 2], "nice": false},
              "axis": {
                "orient": "left",
                "title": "Standardised Residuals",
                "titleFont": "Open Sans",
                "titleFontSize": 37,
                "titleBaseline": "alphabetic",
                "titleAngle": -90,
                "titleX": -42,
                "titleY": 264,
                "values": [-8,-7,-6,-5,-4,-3,-2,-1,0,1,2],
                "labelExpr": "format(datum.value, 'd')",
                "labelOverlap": false,
                "labelFlush": false,
                "tickSize": -6,
                "labelPadding": 10
              }
            }
          }
        },
        {
          "data": {"name": "labL"},
          "mark": {"type": "point", "opacity": 0},
          "encoding": {
            "x": {
              "field": "e", "type": "quantitative",
              "scale": {"domain": [0, 772], "nice": false, "zero": false},
              "axis": {"orient": "bottom", "title": null, "labels": false, "domain": false, "tickSize": -3.5,
                "values": [20,40,60,80,120,140,160,180,220,240,260,280,320,340,360,380,420,440,460,480,520,540,560,580,620,640,660,680,720,740,760]}
            },
            "y": {
              "field": "r", "type": "quantitative",
              "scale": {"domain": [-8, 2], "nice": false},
              "axis": {"orient": "left", "title": null, "labels": false, "domain": false, "tickSize": -3.5,
                "values": [-7.75,-7.5,-7.25,-6.75,-6.5,-6.25,-5.75,-5.5,-5.25,-4.75,-4.5,-4.25,-3.75,-3.5,-3.25,-2.75,-2.5,-2.25,-1.75,-1.5,-1.25,-0.75,-0.5,-0.25,0.25,0.5,0.75,1.25,1.5,1.75]}
            }
          }
        },
        {
          "data": {"name": "labL"},
          "mark": {"type": "text", "font": "Open Sans", "fontSize": 34, "color": "#ff0000", "align": "center", "baseline": "alphabetic"},
          "encoding": {
            "x": {"field": "e", "type": "quantitative", "scale": {"domain": [0, 772], "nice": false, "zero": false}, "axis": null},
            "y": {"field": "r", "type": "quantitative", "scale": {"domain": [-8, 2], "nice": false}, "axis": null},
            "text": {"field": "t"}
          }
        }
      ]
    },
    {
      "width": 511,
      "height": 608,
      "resolve": {"axis": {"x": "independent", "y": "independent"}},
      "layer": [
        {
          "data": {"name": "right"},
          "mark": {"type": "rule", "color": "#444", "strokeWidth": 1},
          "encoding": {
            "y": {"datum": 0, "type": "quantitative", "scale": {"domain": [-6, 6], "nice": false}, "axis": null}
          }
        },
        {
          "data": {"name": "right"},
          "mark": {"type": "circle", "size": 14, "color": "black", "opacity": 1},
          "encoding": {
            "x": {
              "field": "e", "type": "quantitative",
              "scale": {"domain": [0, 766], "nice": false, "zero": false},
              "axis": {
                "orient": "bottom",
                "title": "Energy (keV)",
                "titleFontSize": 29,
                "titleBaseline": "alphabetic",
                "titleX": 257,
                "titleY": 65,
                "values": [0,100,200,300,400,500,600,700],
                "labelExpr": "format(datum.value, 'd')",
                "labelOverlap": false,
                "labelFlush": false,
                "tickSize": -6,
                "labelPadding": 17
              }
            },
            "y": {
              "field": "r", "type": "quantitative",
              "scale": {"domain": [-6, 6], "nice": false},
              "axis": {
                "orient": "left",
                "title": "Standardised Residuals",
                "titleFont": "Open Sans",
                "titleFontSize": 37,
                "titleBaseline": "alphabetic",
                "titleAngle": -90,
                "titleX": -41,
                "titleY": 264,
                "values": [-6,-4,-2,0,2,4,6],
                "labelExpr": "format(datum.value, 'd')",
                "labelOverlap": false,
                "labelFlush": false,
                "tickSize": -6,
                "labelPadding": 10
              }
            }
          }
        },
        {
          "data": {"name": "labR"},
          "mark": {"type": "point", "opacity": 0},
          "encoding": {
            "x": {
              "field": "e", "type": "quantitative",
              "scale": {"domain": [0, 766], "nice": false, "zero": false},
              "axis": {"orient": "bottom", "title": null, "labels": false, "domain": false, "tickSize": -3.5,
                "values": [20,40,60,80,120,140,160,180,220,240,260,280,320,340,360,380,420,440,460,480,520,540,560,580,620,640,660,680,720,740,760]}
            },
            "y": {
              "field": "r", "type": "quantitative",
              "scale": {"domain": [-6, 6], "nice": false},
              "axis": {"orient": "left", "title": null, "labels": false, "domain": false, "tickSize": -3.5,
                "values": [-5.5,-5,-4.5,-3.5,-3,-2.5,-1.5,-1,-0.5,0.5,1,1.5,2.5,3,3.5,4.5,5,5.5]}
            }
          }
        },
        {
          "data": {"name": "labR"},
          "mark": {"type": "text", "font": "Open Sans", "fontSize": 34, "color": "#ff0000", "align": "center", "baseline": "alphabetic"},
          "encoding": {
            "x": {"field": "e", "type": "quantitative", "scale": {"domain": [0, 766], "nice": false, "zero": false}, "axis": null},
            "y": {"field": "r", "type": "quantitative", "scale": {"domain": [-6, 6], "nice": false}, "axis": null},
            "text": {"field": "t"}
          }
        }
      ]
    }
  ]
}
